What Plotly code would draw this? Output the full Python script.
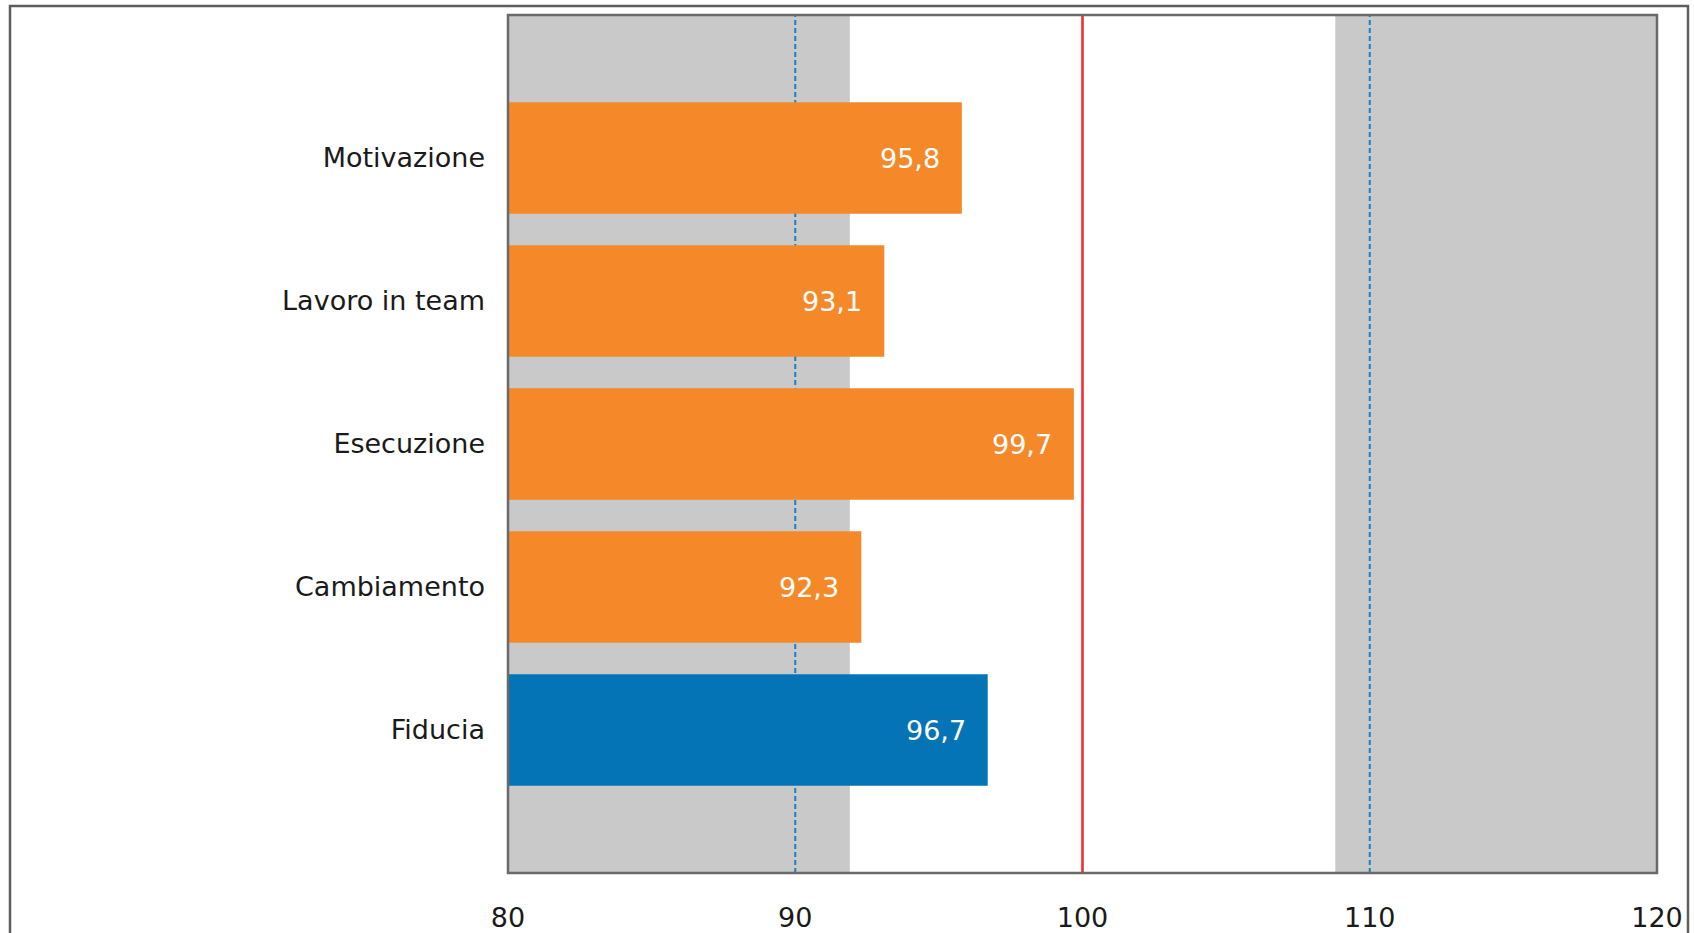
import plotly.graph_objects as go

# Scores per dimension (top to bottom)
categories = ["Motivazione", "Lavoro in team", "Esecuzione", "Cambiamento", "Fiducia"]
scores = [95.8, 93.1, 99.7, 92.3, 96.7]
bar_colors = ["#F5892A", "#F5892A", "#F5892A", "#F5892A", "#0474B6"]

# Axis and reference values
x_min, x_max = 80, 120
x_ticks = [80, 90, 100, 110, 120]
low_band = [80, 91.9]
high_band = [108.8, 120]
dashed_refs = [90, 110]
center_ref = 100

FONT = "DejaVu Sans"
FS = 27
W, H = 1694, 933
M_L, M_R, M_T, M_B = 508, 37, 15, 60

fig = go.Figure()
fig.add_trace(go.Bar(
    x=scores,
    y=categories,
    orientation="h",
    width=0.78,
    marker=dict(color=bar_colors, line=dict(width=0)),
    hoverinfo="x+y",
    showlegend=False,
))

# value labels inside the bar ends
for cat, v in zip(categories, scores):
    fig.add_annotation(
        x=v, y=cat, xref="x", yref="y",
        text=f"{v:.1f}".replace(".", ","),
        showarrow=False, xanchor="right", yanchor="middle",
        xshift=-20,
        font=dict(family=FONT, size=FS, color="white"),
    )

shapes = []
# shaded bands
for x0, x1 in (low_band, high_band):
    shapes.append(dict(type="rect", xref="x", yref="paper", x0=x0, x1=x1, y0=0, y1=1,
                       fillcolor="#C9C9C9", line=dict(width=0), layer="below"))
# dashed reference lines
for xv in dashed_refs:
    shapes.append(dict(type="line", xref="x", yref="paper", x0=xv, x1=xv, y0=0, y1=1,
                       line=dict(color="#1B80C4", width=2, dash="5px,3px"), layer="below"))
# solid centre line
shapes.append(dict(type="line", xref="x", yref="paper", x0=center_ref, x1=center_ref, y0=0, y1=1,
                   line=dict(color="#F2272B", width=2.5), layer="above"))
# plot area frame
shapes.append(dict(type="rect", xref="paper", yref="paper", x0=0, x1=1, y0=0, y1=1,
                   line=dict(color="#6A6A6A", width=2.5), fillcolor="rgba(0,0,0,0)", layer="above"))

# outer chart frame (extends below the visible page)
pw = W - M_L - M_R
ph = H - M_T - M_B
def px_x(p):
    return (p - M_L) / pw
def px_y(p):
    return (H - M_B - p) / ph
shapes.append(dict(type="rect", xref="paper", yref="paper",
                   x0=px_x(10), x1=px_x(1688), y0=px_y(960), y1=px_y(6),
                   line=dict(color="#5E5E5E", width=2.5), fillcolor="rgba(0,0,0,0)", layer="above"))

fig.update_layout(
    width=W, height=H, autosize=False,
    margin=dict(l=M_L, r=M_R, t=M_T, b=M_B, pad=0, autoexpand=False),
    plot_bgcolor="white", paper_bgcolor="white",
    shapes=shapes,
    font=dict(family=FONT, size=FS, color="#1A1A1A"),
    xaxis=dict(
        range=[x_min, x_max], tickvals=x_ticks, ticktext=[str(t) for t in x_ticks],
        showgrid=False, zeroline=False, showline=False, ticks="",
        ticklabelstandoff=26, automargin=False,
        tickfont=dict(family=FONT, size=FS, color="#1A1A1A"),
        fixedrange=True,
    ),
    yaxis=dict(
        type="category", categoryorder="array", categoryarray=categories,
        range=[len(categories), -1],
        showgrid=False, zeroline=False, showline=False, ticks="",
        ticklabelstandoff=22, automargin=False,
        tickfont=dict(family=FONT, size=FS, color="#1A1A1A"),
        fixedrange=True,
    ),
)

fig.write_html("out.html")
